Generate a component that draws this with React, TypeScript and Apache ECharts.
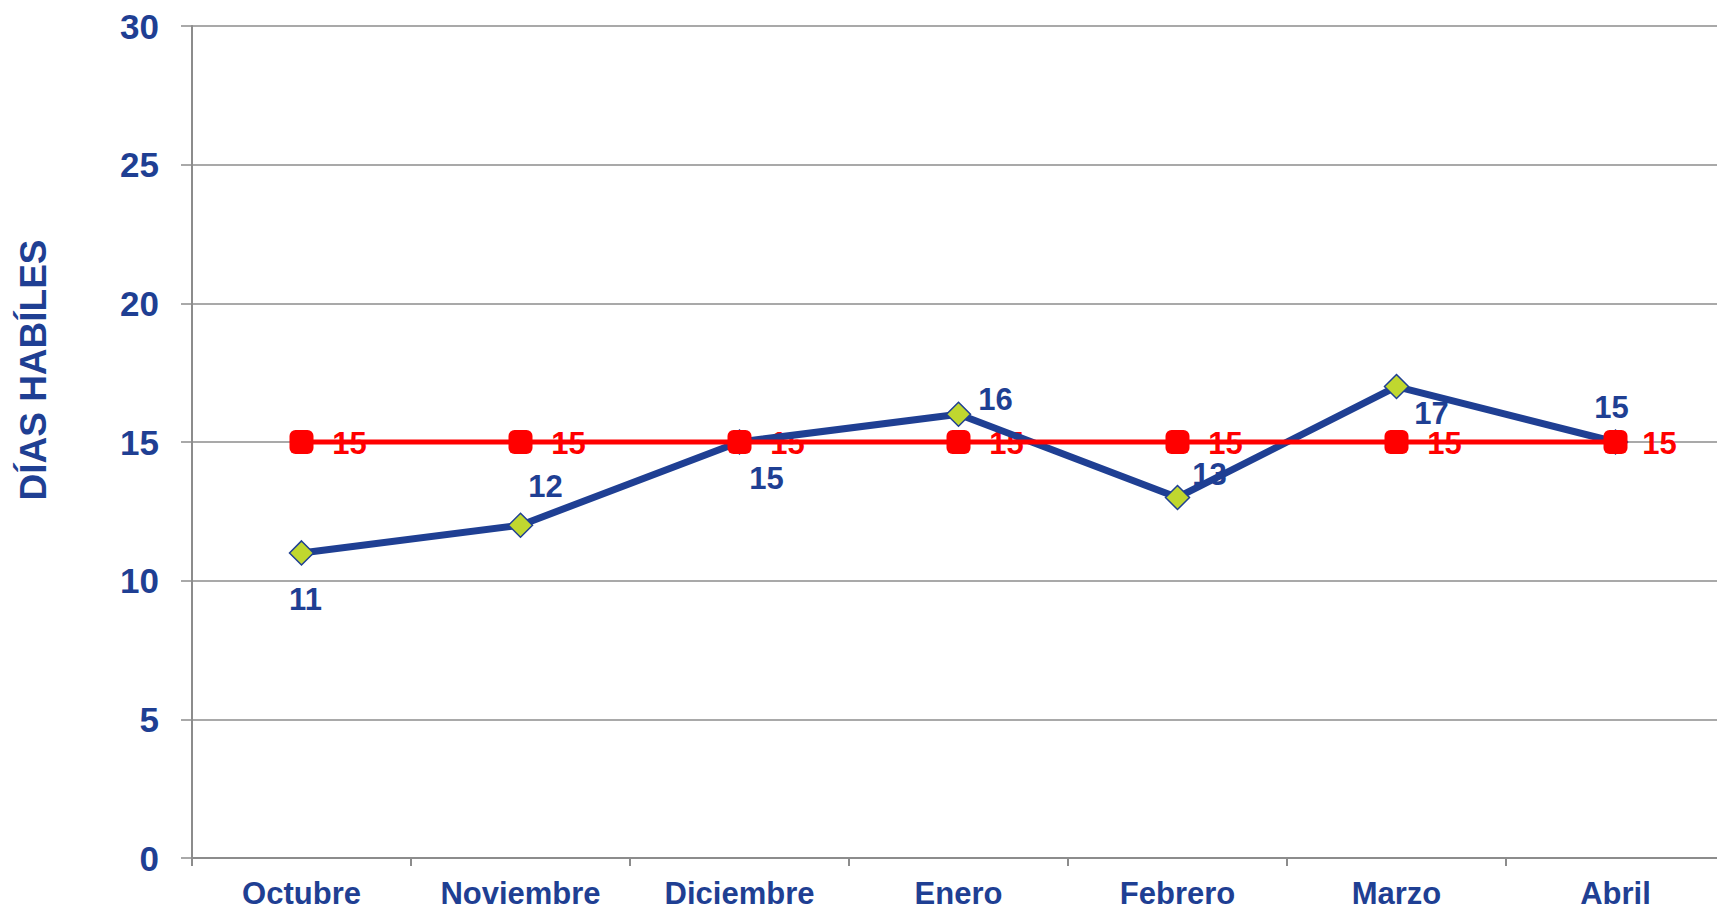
import React, { useEffect, useRef } from "react";
import * as echarts from "echarts";

const categories = ["Octubre", "Noviembre", "Diciembre", "Enero", "Febrero", "Marzo", "Abril"];
const diasReales = [11, 12, 15, 16, 13, 17, 15];
const meta = [15, 15, 15, 15, 15, 15, 15];
const yTicks = { min: 0, max: 30, interval: 5 };
const axisTitle = "DÍAS HABÍLES";

// label placement (styling, not data)
const realLabelOffsets = [[4, 47], [25, -39], [27, 36], [37, -15], [32, -23], [35, 27], [-4, -35]];
const metaLabelOffsets = [[48, 1], [48, 1], [48, 1], [48, 1], [48, 1], [48, 1], [44, 1]];

const BLUE = "#1F3F93";
const RED = "#FF0000";
const LIME = "#C0D72F";
const GRAY = "#8C8C8C";
const FONT = "'Liberation Sans', Arial, sans-serif";

export default function App() {
  const ref = useRef<HTMLDivElement>(null);
  useEffect(() => {
    if (!ref.current) return;
    const chart = echarts.init(ref.current, undefined, { renderer: "svg" });
    const labelSeries = (values: number[], offsets: number[][], color: string) => ({
      type: "line",
      z: 1,
      silent: true,
      data: values.map((v, i) => ({
        value: v,
        label: { offset: offsets[i] },
      })),
      symbol: "circle",
      symbolSize: 1,
      itemStyle: { color: "rgba(0,0,0,0)" },
      lineStyle: { width: 0, opacity: 0 },
      label: {
        show: true,
        position: "inside",
        color,
        fontSize: 31,
        fontWeight: "bold",
        fontFamily: FONT,
      },
    });
    chart.setOption({
      animation: false,
      grid: { left: 192, top: 26, right: 0, bottom: 53, containLabel: false },
      xAxis: {
        type: "category",
        data: categories,
        boundaryGap: true,
        axisLine: { show: true, lineStyle: { color: GRAY, width: 2 } },
        axisTick: { show: true, length: 8, lineStyle: { color: GRAY, width: 2 } },
        axisLabel: {
          color: BLUE,
          fontSize: 31,
          lineHeight: 31,
          fontWeight: "bold",
          fontFamily: FONT,
          margin: 20,
        },
      },
      yAxis: {
        type: "value",
        min: yTicks.min,
        max: yTicks.max,
        interval: yTicks.interval,
        axisLine: { show: true, lineStyle: { color: GRAY, width: 2 } },
        axisTick: { show: true, length: 11, lineStyle: { color: GRAY, width: 1.5 } },
        splitLine: { show: true, lineStyle: { color: GRAY, width: 1.5 } },
        axisLabel: {
          color: BLUE,
          fontSize: 35,
          fontWeight: "bold",
          fontFamily: FONT,
          margin: 33,
        },
      },
      graphic: [
        {
          type: "text",
          x: 33,
          y: 370,
          rotation: Math.PI / 2,
          style: {
            text: axisTitle,
            fill: BLUE,
            fontSize: 37,
            fontWeight: "bold",
            fontFamily: FONT,
            textAlign: "center",
            textVerticalAlign: "middle",
          },
        },
      ],
      series: [
        labelSeries(diasReales, realLabelOffsets, BLUE),
        labelSeries(meta, metaLabelOffsets, RED),
        {
          type: "line",
          z: 2,
          data: diasReales,
          symbol: "diamond",
          symbolSize: 24,
          lineStyle: { color: BLUE, width: 7 },
          itemStyle: { color: LIME, borderColor: BLUE, borderWidth: 1.5 },
          label: { show: false },
        },
        {
          type: "line",
          z: 3,
          data: meta,
          symbol: "roundRect",
          symbolSize: 24,
          lineStyle: { color: RED, width: 5 },
          itemStyle: { color: RED },
          label: { show: false },
        },
      ],
    });
    return () => chart.dispose();
  }, []);
  return (
    <div
      style={{ position: "absolute", left: 0, top: 0, width: 1717, height: 911, overflow: "hidden" }}
    >
      <div ref={ref} style={{ width: 1725, height: 911 }} />
    </div>
  );
}
